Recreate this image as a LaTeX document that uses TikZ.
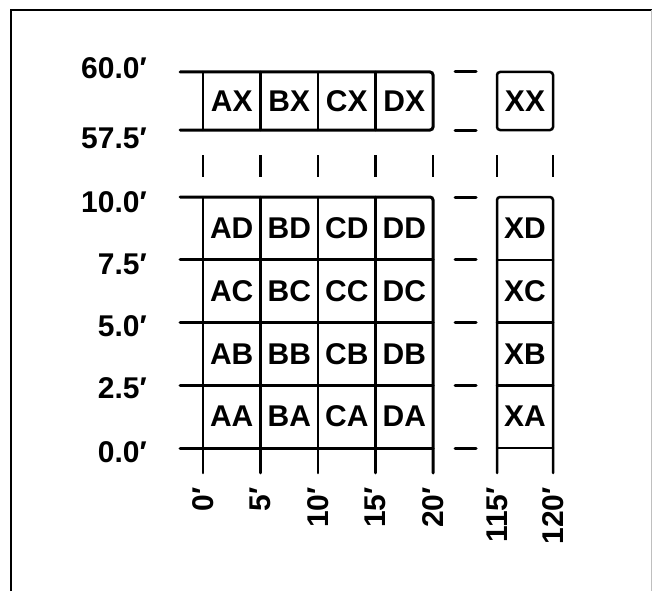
\documentclass[tikz,border=0pt]{standalone}
\usepackage{fontspec}
\setmainfont{Liberation Sans}
\usepackage{tikz}
\tikzset{
    tnode/.style = {inner sep=0pt, font=\fontsize{30}{34}\selectfont\bfseries},
    cell_node/.style = {tnode, text centered},
    ylab_node/.style = {tnode, anchor=east},
    xlab_node/.style = {tnode, anchor=east, rotate=90},
    grid_line/.style = {line width=3pt, line cap=round},
    box_line/.style = {line width=2.5pt, line cap=round},
    tick_line/.style = {line width=2.6pt}
}

\begin{document}
\begin{tikzpicture}[x=1pt, y=-1pt]
    \useasboundingbox (0,0) rectangle (652,591);
    % frame
    \draw[line width=2.5pt] (11,591) -- (11,10) -- (652,10);
    \draw[line width=0.6pt, gray!50] (651,10) -- (651,591);
    % top strip
    \draw[grid_line, rounded corners=3pt] (180,72) -- (433,72) -- (433,130) -- (180,130);
    \foreach \x in {203,260.5,318,375.5}
        \draw[box_line] (\x,72) -- (\x,130);
    \draw[box_line, rounded corners=3pt] (497,72) rectangle (553,130);
    % lower block
    \draw[grid_line, rounded corners=3pt] (180,197) -- (433,197) -- (433,473);
    \foreach \y in {259.75,322.5,385.25,448}
        \draw[grid_line] (180,\y) -- (433,\y);
    \foreach \x in {203,260.5,318,375.5}
        \draw[box_line] (\x,197) -- (\x,473);
    \draw[box_line, rounded corners=3pt] (497,473) -- (497,197) -- (553,197) -- (553,473);
    \foreach \y in {259.75,322.5,385.25,448}
        \draw[box_line] (497,\y) -- (553,\y);
    % breaks
    \foreach \y in {72,130,197,259.75,322.5,385.25,448}
        \draw[grid_line] (455,\y) -- (476,\y);
    \foreach \x in {203,260.5,318,375.5,433,497,553}
        \draw[tick_line] (\x,155) -- (\x,177);
    % cells
    \foreach \col [count=\i from 0] in {A,B,C,D} {
        \node[cell_node] (cell\col X) at ({231.75+57.5*\i},101) {\col X};
        \foreach \row [count=\j from 0] in {D,C,B,A}
            \node[cell_node] (cell\col\row) at ({231.75+57.5*\i},{228.4+62.75*\j}) {\col\row};
    }
    \node[cell_node] (cellXX) at (525,101) {XX};
    \foreach \row [count=\j from 0] in {D,C,B,A}
        \node[cell_node] (cellX\row) at (525,{228.4+62.75*\j}) {X\row};
    % axis labels
    \foreach \lab/\y [count=\k] in {60.0/68,57.5/138,10.0/202,7.5/264,5.0/326,2.5/388,0.0/452}
        \node[ylab_node] (ylab\k) at (147,\y) {\lab′};
    \foreach \lab/\x [count=\k] in {0/203,5/260.5,10/318,15/375.5,20/433,115/497,120/553}
        \node[xlab_node] (xlab\k) at (\x,487) {\lab′};
\end{tikzpicture}
\end{document}
